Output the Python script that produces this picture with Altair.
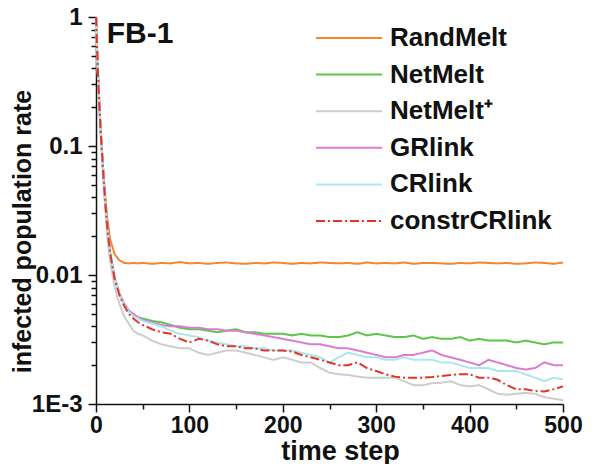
import altair as alt
import pandas as pd

T = [0, 1, 2, 3, 4, 5, 6, 8, 10, 12, 15, 20, 25, 30, 35, 40, 45, 50] + list(range(60, 501, 10))

series_names = ["RandMelt", "NetMelt", "NetMelt\u207a", "GRlink", "CRlink", "constrCRlink"]
series_colors = ["#F5862E", "#5CC646", "#CDCDCD", "#DA7CD2", "#A9E9E9", "#E5332A"]

rand_melt = [1.0, 0.62, 0.39, 0.27, 0.19, 0.14, 0.105, 0.062, 0.04, 0.028, 0.019, 0.0145, 0.013, 0.0124, 0.0123, 0.0124, 0.0123, 0.0124,
             0.0122, 0.0124, 0.0123, 0.0126, 0.0123, 0.0124, 0.0122, 0.0124, 0.0125, 0.0123,
             0.0122, 0.0124, 0.0123, 0.0125, 0.0124, 0.0122, 0.0124, 0.0123, 0.0125, 0.0124,
             0.0123, 0.0124, 0.0122, 0.0125, 0.0123, 0.0124, 0.0123, 0.0125, 0.0122, 0.0124,
             0.0124, 0.0123, 0.0122, 0.0124, 0.0123, 0.0125, 0.0124, 0.0123, 0.0124, 0.0122,
             0.0123, 0.0125, 0.0124, 0.0122, 0.0125]

net_melt = [1.0, 0.6, 0.37, 0.26, 0.18, 0.13, 0.1, 0.058, 0.036, 0.024, 0.015, 0.0095, 0.0072, 0.006, 0.0053, 0.0049, 0.0047, 0.0046,
            0.0044, 0.0043, 0.0041, 0.0039, 0.0038, 0.0038, 0.0037, 0.0036, 0.0037, 0.0038,
            0.0036, 0.0036, 0.0035, 0.0035, 0.0035, 0.0034, 0.0035, 0.0034, 0.0034, 0.0033,
            0.0033, 0.0034, 0.0036, 0.0034, 0.0035, 0.0034, 0.0033, 0.0033, 0.0034, 0.0032,
            0.0033, 0.0032, 0.0032, 0.0033, 0.0031, 0.0032, 0.0031, 0.0031, 0.0031, 0.0030,
            0.0031, 0.0030, 0.0029, 0.0030, 0.0030]

net_melt_plus = [1.0, 0.58, 0.35, 0.24, 0.17, 0.12, 0.09, 0.052, 0.032, 0.02, 0.013, 0.008, 0.006, 0.0048, 0.0042, 0.0037, 0.0035, 0.0034,
                 0.0031, 0.0029, 0.0028, 0.0027, 0.0027, 0.0025, 0.0024, 0.0025, 0.0026, 0.0026,
                 0.0025, 0.0024, 0.0023, 0.0022, 0.0023, 0.0022, 0.0021, 0.0021, 0.0019, 0.00175,
                 0.0017, 0.00168, 0.00163, 0.0016, 0.0016, 0.0016, 0.0016, 0.0015, 0.0014, 0.0014,
                 0.00145, 0.00146, 0.0015, 0.0014, 0.00137, 0.0014, 0.0013, 0.0012, 0.00118, 0.0012,
                 0.00122, 0.0012, 0.00113, 0.0011, 0.00107]

gr_link = [1.0, 0.6, 0.37, 0.26, 0.18, 0.13, 0.1, 0.058, 0.036, 0.024, 0.015, 0.0095, 0.0072, 0.006, 0.0053, 0.0050, 0.0047, 0.0045,
           0.0043, 0.0041, 0.0040, 0.0040, 0.0039, 0.0039, 0.0038, 0.0038, 0.0037, 0.0037,
           0.0036, 0.0035, 0.0034, 0.0033, 0.0032, 0.0031, 0.0030, 0.0029, 0.0029, 0.0028,
           0.0027, 0.0027, 0.0026, 0.0025, 0.0024, 0.0023, 0.0023, 0.0024, 0.0024, 0.0025,
           0.0026, 0.0024, 0.0023, 0.0022, 0.0021, 0.0020, 0.0022, 0.0021, 0.0020, 0.0019,
           0.00185, 0.0019, 0.0021, 0.0020, 0.0020]

cr_link = [1.0, 0.6, 0.37, 0.26, 0.18, 0.13, 0.1, 0.058, 0.036, 0.024, 0.015, 0.0095, 0.0071, 0.0059, 0.0052, 0.0048, 0.0046, 0.0044,
           0.0042, 0.0040, 0.0037, 0.0035, 0.0034, 0.0033, 0.0031, 0.0030, 0.0029, 0.0028,
           0.0028, 0.0027, 0.0027, 0.0026, 0.0026, 0.0026, 0.0025, 0.0024, 0.0023, 0.0021,
           0.0023, 0.0025, 0.0024, 0.0023, 0.0023, 0.0022, 0.0022, 0.0023, 0.0022, 0.0022,
           0.0022, 0.0021, 0.0021, 0.0020, 0.0019, 0.0019, 0.0019, 0.0018, 0.0018, 0.0018,
           0.0017, 0.0016, 0.0015, 0.0016, 0.00155]

constr_cr_link = [1.0, 0.62, 0.38, 0.26, 0.18, 0.13, 0.1, 0.058, 0.036, 0.024, 0.015, 0.0093, 0.0070, 0.0058, 0.0050, 0.0046, 0.0043, 0.0041,
                  0.0038, 0.0036, 0.0035, 0.0032, 0.0030, 0.0032, 0.0031, 0.0029, 0.0028, 0.0028,
                  0.0027, 0.0027, 0.0026, 0.0026, 0.0026, 0.00255, 0.0024, 0.0023, 0.0022, 0.0021,
                  0.0020, 0.0020, 0.0021, 0.0019, 0.0018, 0.0017, 0.00163, 0.0016, 0.0016, 0.0016,
                  0.00162, 0.00165, 0.00168, 0.0017, 0.0017, 0.0016, 0.0016, 0.00154, 0.0014, 0.0013,
                  0.0013, 0.00126, 0.00125, 0.0013, 0.00137]

all_series = [rand_melt, net_melt, net_melt_plus, gr_link, cr_link, constr_cr_link]

x_ticks = list(range(0, 501, 50))
y_ticks = [0.001, 0.002, 0.003, 0.004, 0.005, 0.006, 0.007, 0.008, 0.009,
           0.01, 0.02, 0.03, 0.04, 0.05, 0.06, 0.07, 0.08, 0.09,
           0.1, 0.2, 0.3, 0.4, 0.5, 0.6, 0.7, 0.8, 0.9, 1.0]

panel_label = "FB-1"
panel_label_pos = {"t": 11.5, "v": 0.74}

rows = []
for name, vals in zip(series_names, all_series):
    for t, v in zip(T, vals):
        rows.append({"t": t, "v": v, "series": name})
df = pd.DataFrame(rows)

dashes = [[1, 0], [1, 0], [1, 0], [1, 0], [1, 0], [9, 3, 2, 3]]

major_y = "abs(log(datum.value)/LN10 - round(log(datum.value)/LN10)) < 0.001"

x_axis = alt.Axis(
    values=x_ticks,
    labelExpr="datum.value % 100 == 0 ? datum.label : ''",
    tickSize={"condition": {"test": "datum.value % 100 == 0", "value": 8}, "value": 5},
    labelFlush=False, labelOverlap=False, grid=False,
    title="time step", titleFontSize=27, titleX=244, titleY=55,
    titleBaseline="alphabetic", titleAlign="center", labelPadding=2,
)
y_axis = alt.Axis(
    values=y_ticks,
    labelExpr=f"({major_y}) ? (datum.value < 0.005 ? '1E-3' : format(datum.value, '~g')) : ''",
    tickSize={"condition": {"test": major_y, "value": 8}, "value": 5},
    labelFlush=False, labelOverlap=False, grid=False,
    title="infected population rate", titleFontSize=25, titleX=-74, titleY=214,
    titleAngle=-90, titleBaseline="middle", titleAlign="center", labelPadding=6,
    labelFontSize=24,
)

lines = alt.Chart(df).mark_line(strokeWidth=2).encode(
    x=alt.X("t:Q", scale=alt.Scale(domain=[0, 500], nice=False), axis=x_axis),
    y=alt.Y("v:Q", scale=alt.Scale(type="log", domain=[0.001, 1], nice=False), axis=y_axis),
    color=alt.Color("series:N", scale=alt.Scale(domain=series_names, range=series_colors), title=None),
    strokeDash=alt.StrokeDash("series:N", scale=alt.Scale(domain=series_names, range=dashes), title=None),
    order=alt.Order("t:Q"),
)

label_df = pd.DataFrame([{"t": panel_label_pos["t"], "v": panel_label_pos["v"], "txt": panel_label}])
label = alt.Chart(label_df).mark_text(
    align="left", baseline="middle", fontSize=30, fontWeight="bold", font="Liberation Sans", color="#111"
).encode(x="t:Q", y="v:Q", text="txt:N")

chart = alt.layer(lines, label).properties(
    width=467, height=387,
    autosize=alt.AutoSizeParams(type="none"),
    padding={"left": 88, "top": 9, "right": 22, "bottom": 60},
).configure_view(stroke=None).configure_axis(
    domainColor="#111", domainWidth=1.5, tickColor="#111", tickWidth=1.5,
    labelFont="Liberation Sans", labelFontWeight="bold", labelFontSize=23, labelColor="#111",
    titleFont="Liberation Sans", titleFontWeight="bold", titleColor="#111",
).configure_legend(
    orient="none", legendX=240, legendY=8,
    symbolType="M-3,0L3,0", symbolSize=484, symbolStrokeWidth=2,
    labelFont="Liberation Sans", labelFontWeight="bold", labelFontSize=26, labelColor="#111",
    labelOffset=28, rowPadding=10.6, labelLimit=300,
)

chart.save("out.html", embed_options={"renderer": "svg", "actions": False})
